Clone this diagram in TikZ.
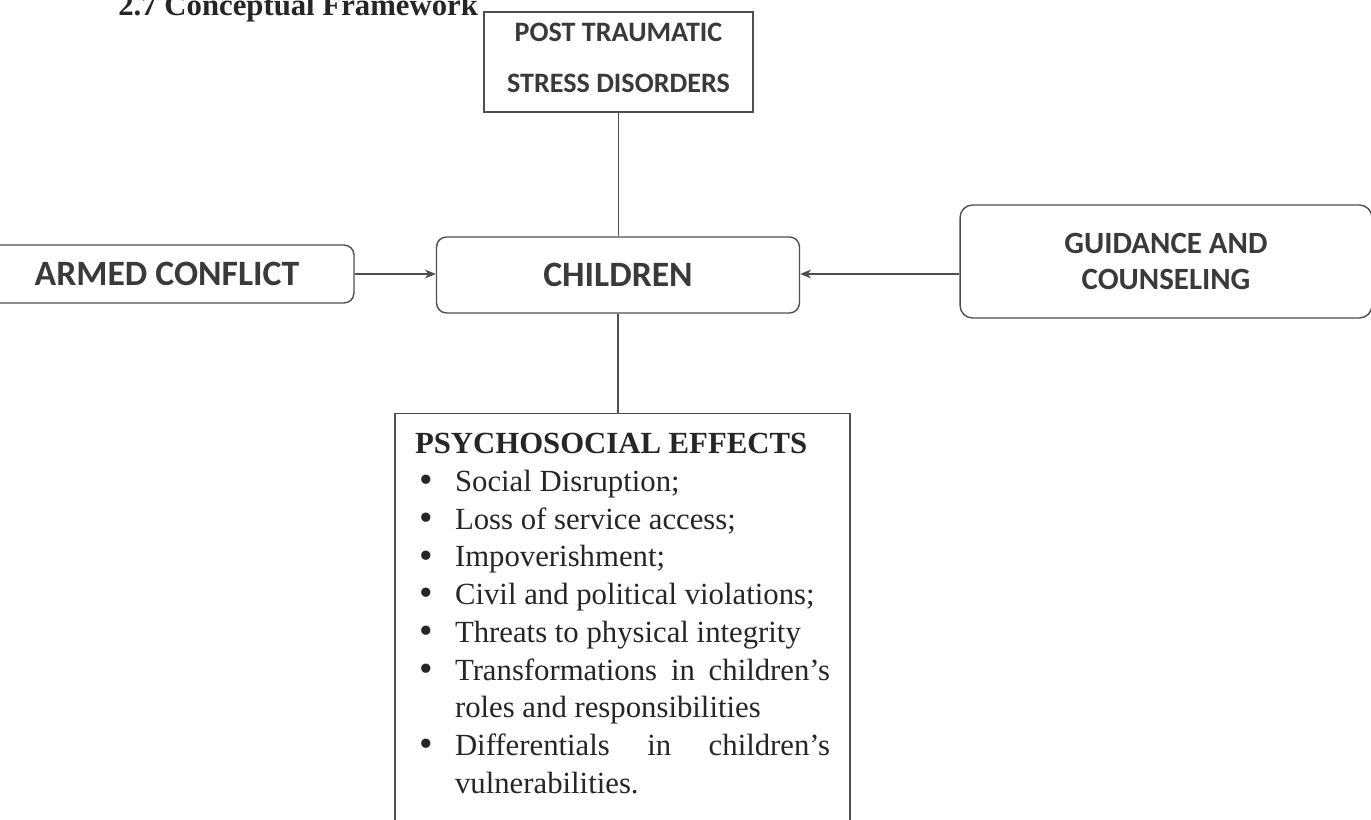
\documentclass[tikz,border=0pt]{standalone}
\usepackage{fontspec}
\setmainfont{Liberation Serif}
\newfontfamily\calibri{Carlito}
\usepackage{tikz}
\usetikzlibrary{positioning, calc, arrows.meta}

\begin{document}
\begin{tikzpicture}[x=0.02cm, y=-0.02cm,
  caixa/.style={draw=linha, line width=0.8pt, fill=white, inner sep=0pt, text=texto},
  redonda/.style={caixa, rounded corners=0.2cm},
  ligacao/.style={draw=linha, line width=0.8pt},
  seta/.style={ligacao, ->, >={Stealth[length=2.2mm, width=1.8mm]}}]
% --- CORES HEX ---
\definecolor{linha}{HTML}{4F4F4F}
\definecolor{texto}{HTML}{3A3A3A}
\definecolor{serifa}{HTML}{262626}

\useasboundingbox (0,0) rectangle (1371,820);

% LAYER 1: Titulo
\node[anchor=base west, inner sep=0pt, text=serifa, font=\bfseries\fontsize{17.5}{21}\selectfont] (titulo) at (118,16) {2.7 Conceptual Framework};

% LAYER 2: Caixas
\node[caixa, align=center, minimum width=5.38cm, minimum height=2cm, text depth=0.18cm, font=\calibri\bfseries\fontsize{16}{29}\selectfont] (ptsd) at (618.5,62) {POST TRAUMATIC\\STRESS DISORDERS};
\node[redonda, minimum width=7.26cm, minimum height=1.52cm, font=\calibri\bfseries\fontsize{20.3}{24}\selectfont] (criancas) at (618,275) {CHILDREN};
\node[redonda, minimum width=7.48cm, minimum height=1.16cm, font=\calibri\bfseries\fontsize{20.3}{24}\selectfont] (conflito) at (167,274) {ARMED CONFLICT};
\node[redonda, rounded corners=0.25cm, align=center, minimum width=8.24cm, minimum height=2.26cm, font=\calibri\bfseries\fontsize{17.6}{20.4}\selectfont] (orientacao) at (1166,261.5) {GUIDANCE AND\\COUNSELING};

% LAYER 3: Efeitos psicossociais
\node[caixa, anchor=north, text=serifa, align=justify, text width=8.3cm, inner xsep=0.4cm, inner ysep=0.39cm, font=\fontsize{17.5}{21.5}\selectfont] (efeitos) at (622.5,413) {%
{\bfseries PSYCHOSOCIAL EFFECTS}
\begin{list}{\raisebox{-0.04em}{\fontsize{22}{22}\selectfont\textbullet}}{\setlength{\leftmargin}{0.8cm}\setlength{\labelsep}{0.45cm}\setlength{\labelwidth}{0.35cm}%
\setlength{\itemsep}{0pt}\setlength{\parsep}{0pt}\setlength{\topsep}{0pt}\setlength{\partopsep}{0pt}}
\item Social Disruption;
\item Loss of service access;
\item Impoverishment;
\item Civil and political violations;
\item Threats to physical integrity
\item Transformations in children's roles and responsibilities
\item Differentials in children's\linebreak vulnerabilities.\rule[-1cm]{0pt}{1cm}
\end{list}};

% LAYER 4: Ligacoes
\draw[ligacao] (ptsd.south) -- (ptsd.south |- criancas.north);
\draw[ligacao] (criancas.south) -- (criancas.south |- efeitos.north);
\draw[seta] (conflito.east) -- (conflito.east -| criancas.west);
\draw[seta] (orientacao.west |- conflito.east) -- (criancas.east |- conflito.east);
\end{tikzpicture}
\end{document}
